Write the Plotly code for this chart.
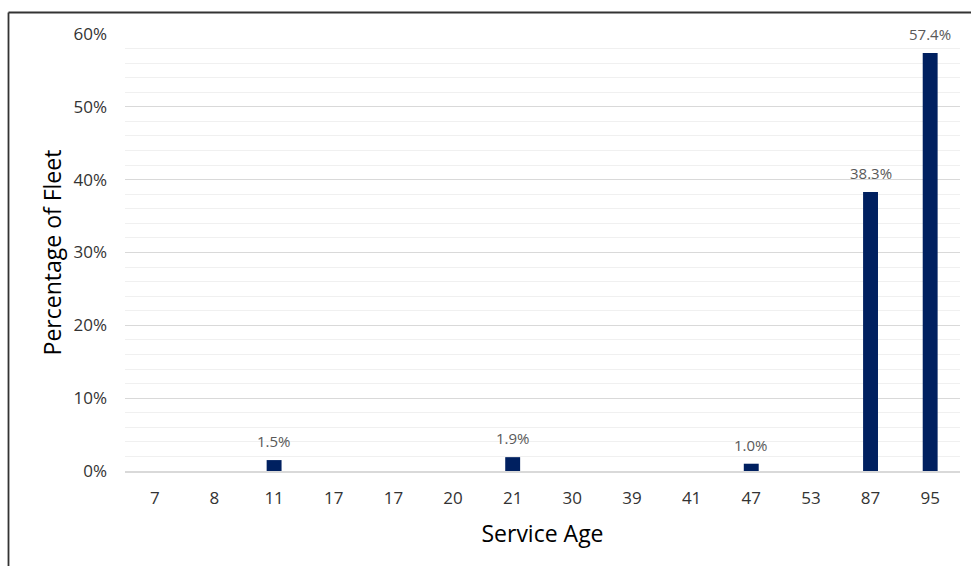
import plotly.graph_objects as go

# Fleet share by service age (category labels may repeat, so bars sit on index positions)
service_age = ["7", "8", "11", "17", "17", "20", "21", "30", "39", "41", "47", "53", "87", "95"]
fleet_pct = [0, 0, 1.5, 0, 0, 0, 1.9, 0, 0, 0, 1.0, 0, 38.3, 57.4]
y_ticks = [0, 10, 20, 30, 40, 50, 60]

positions = list(range(len(service_age)))
FONT = "Open Sans, DejaVu Sans, sans-serif"

fig = go.Figure()
fig.add_trace(go.Bar(
    x=positions,
    y=fleet_pct,
    width=0.25,
    marker=dict(color="#002060", line=dict(width=0)),
    hoverinfo="skip",
))

annotations = []
for pos, val in zip(positions, fleet_pct):
    if val > 0:
        annotations.append(dict(
            x=pos, y=val, xref="x", yref="y",
            text=f"{val:.1f}%", showarrow=False,
            yanchor="bottom", yshift=7,
            font=dict(family=FONT, size=15, color="#595959"),
        ))

L, R, T, B = 125, 11, 34, 95
W, H = 971, 566
pw, ph = W - L - R, H - T - B

def px_x(px):
    return (px - L) / pw

def px_y(py):
    return 1 - (py - T) / ph

shapes = [
    # outer frame: top and left edges
    dict(type="line", xref="paper", yref="paper",
         x0=px_x(8.5), x1=px_x(971), y0=px_y(12.5), y1=px_y(12.5),
         line=dict(color="#333333", width=1.8)),
    dict(type="line", xref="paper", yref="paper",
         x0=px_x(8.5), x1=px_x(8.5), y0=px_y(12.5), y1=px_y(566),
         line=dict(color="#333333", width=1.8)),
]

fig.update_layout(
    width=W, height=H,
    margin=dict(l=L, r=R, t=T, b=B, pad=0),
    paper_bgcolor="white", plot_bgcolor="white",
    showlegend=False,
    annotations=annotations,
    shapes=shapes,
    xaxis=dict(
        range=[-0.5, len(service_age) - 0.5],
        tickmode="array", tickvals=positions, ticktext=service_age,
        showgrid=False, zeroline=False,
        showline=True, linecolor="#d9d9d9", linewidth=1.5,
        ticks="", ticklabelstandoff=11,
        tickfont=dict(family=FONT, size=17, color="#333333"),
        title=dict(text="Service Age", standoff=18,
                   font=dict(family=FONT, size=23, color="#000000")),
    ),
    yaxis=dict(
        range=[0, 60],
        tickmode="array", tickvals=y_ticks,
        ticktext=[f"{v}%" for v in y_ticks],
        showgrid=True, gridcolor="#d9d9d9", gridwidth=1.2,
        zeroline=False, showline=False,
        ticks="", ticklabelstandoff=17,
        tickfont=dict(family=FONT, size=17, color="#333333"),
        minor=dict(dtick=2, tick0=0, showgrid=True,
                   gridcolor="#f0f0f0", gridwidth=1.2),
        title=dict(text="Percentage of Fleet", standoff=5,
                   font=dict(family=FONT, size=23, color="#000000")),
    ),
)

fig.write_html("out.html")
